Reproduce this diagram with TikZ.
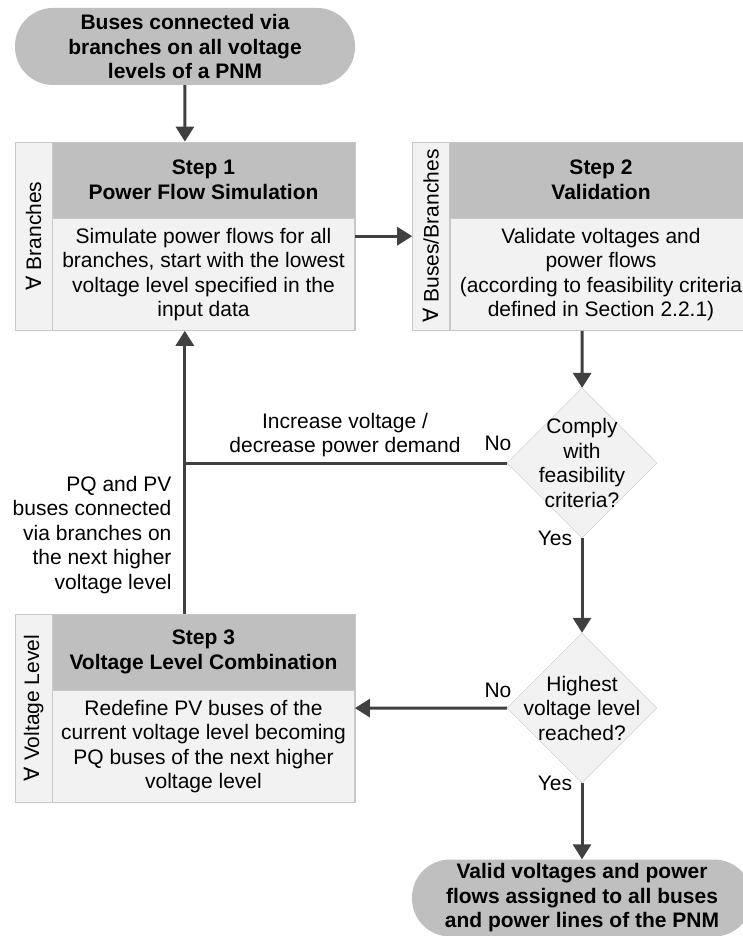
\documentclass[tikz,border=0pt]{standalone}
\usepackage{fontspec}
\setmainfont{Liberation Sans}
\newfontfamily\symfont{DejaVu Sans}
\usepackage{xcolor}
\usepackage{tikz}
\usetikzlibrary{arrows.meta}
\usetikzlibrary{calc, fit, positioning, shapes.geometric}
\definecolor{headgray}{HTML}{BFBFBF}
\definecolor{bodygray}{HTML}{F2F2F2}
\definecolor{edgegray}{HTML}{C8C8C8}
\definecolor{linegray}{HTML}{404040}
\tikzstyle{terminal}=[rectangle, rounded corners=38pt, fill=headgray, minimum width=340pt, minimum height=77pt, inner sep=0pt, align=center, font=\bfseries\fontsize{21pt}{24.5pt}\selectfont]
\tikzstyle{stephead}=[rectangle, fill=headgray, minimum width=302pt, minimum height=76pt, inner sep=0pt, align=center, font=\bfseries\fontsize{21pt}{24.5pt}\selectfont]
\tikzstyle{stepbody}=[rectangle, draw=edgegray, fill=bodygray, minimum width=302pt, minimum height=112pt, inner sep=0pt, align=center]
\tikzstyle{stepside}=[rectangle, draw=edgegray, fill=bodygray, minimum width=37pt, minimum height=188pt, inner sep=0pt]
\tikzstyle{decision}=[diamond, draw=edgegray, fill=bodygray, minimum size=150pt, aspect=1, inner sep=0pt]
\tikzstyle{flow}=[draw=linegray, line width=3pt]

\begin{document}
\begin{tikzpicture}[x=1pt, y=1pt]

\tikzset{>={Triangle[length=15pt, width=18pt]}}
\tikzset{every node/.style={font=\fontsize{21pt}{24.5pt}\selectfont}}

\useasboundingbox (0,0) rectangle (742,-936);

% Start and end
\node[terminal] (start) at (185,-46.5) {Buses connected via\\branches on all voltage\\levels of a PNM};
\node[terminal] (stop) at (582,-898) {Valid voltages and power\\flows assigned to all buses\\and power lines of the PNM};

% Step 1
\node[stephead] (h1) at (203.5,-180) {Step 1\\Power Flow Simulation};
\node[stepbody, below=0pt of h1] (b1) {Simulate power flows for all\\branches, start with the lowest\\voltage level specified in the\\input data};
\node[stepside, anchor=north east] (a1) at (h1.north west) {};
\node[rotate=90] at (a1) {{\symfont ∀}\ Branches};
\node[draw=edgegray, fit=(a1) (h1) (b1), inner sep=0pt] (s1) {};

% Step 2
\node[stephead] (h2) at (601,-180) {Step 2\\Validation};
\node[stepbody, below=0pt of h2] (b2) {Validate voltages and\\power flows\\(according to feasibility criteria\\defined in Section 2.2.1)};
\node[stepside, anchor=north east] (a2) at (h2.north west) {};
\node[rotate=90] at (a2) {{\symfont ∀}\ Buses/Branches};
\node[draw=edgegray, fit=(a2) (h2) (b2), inner sep=0pt] (s2) {};

% Step 3
\node[stephead] (h3) at (203.5,-652) {Step 3\\Voltage Level Combination};
\node[stepbody, below=0pt of h3] (b3) {Redefine PV buses of the\\current voltage level becoming\\PQ buses of the next higher\\voltage level};
\node[stepside, anchor=north east] (a3) at (h3.north west) {};
\node[rotate=90] at (a3) {{\symfont ∀}\ Voltage Level};
\node[draw=edgegray, fit=(a3) (h3) (b3), inner sep=0pt] (s3) {};

% Decisions
\node[decision] (d1) at (582,-463) {};
\node[align=center] at (d1) {Comply\\with\\feasibility\\criteria?};
\node[decision] (d2) at (582,-708) {};
\node[align=center] at (d2) {Highest\\voltage level\\reached?};

% Arrows
\draw[flow, ->] (start) -- (s1); % start -> step 1
\draw[flow, ->] (s1) -- (s2); % step 1 -> step 2
\draw[flow, ->] (s2) -- (d1); % step 2 -> comply
\draw[flow, ->] (d1) -- (d2); % comply -> highest
\draw[flow, ->] (d2) -- (stop); % highest -> end
\draw[flow, ->] (d2) -- (s3); % highest -> step 3
\draw[flow, ->] (s3) -- (s1); % step 3 -> step 1
\draw[flow] (d1.west) -- (d1.west -| s1.south); % comply -> back line

% Labels
\node (no1) at (498,-443) {No};
\node (yes1) at (555,-538) {Yes};
\node (no2) at (498,-690) {No};
\node (yes2) at (555,-783) {Yes};
\node[align=center] (incr) at (345,-435) {Increase voltage /\\decrease power demand};
\node[align=right, anchor=east] (pqpv) at (175,-535) {PQ and PV\\buses connected\\via branches on\\the next higher\\voltage level};

\end{tikzpicture}
\end{document}
